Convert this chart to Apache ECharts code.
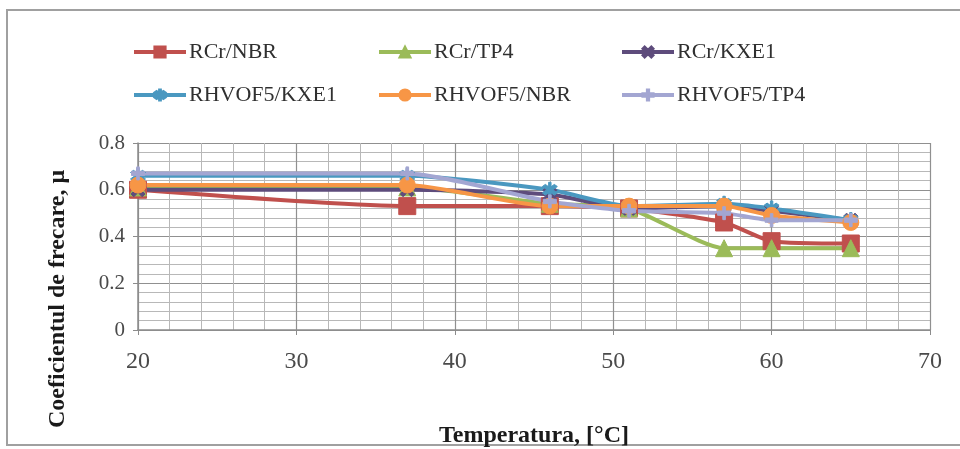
<!DOCTYPE html>
<html>
<head>
<meta charset="utf-8">
<script src="https://cdn.jsdelivr.net/npm/echarts@6/dist/echarts.min.js"></script>
<style>
html,body{margin:0;padding:0;background:#fff;}
#chart{width:960px;height:449px;}
</style>
</head>
<body>
<div id="chart"></div>
<script>
// ---- data ----
var temperatures = [20, 37, 46, 51, 57, 60, 65];
var seriesNames = ['RCr/NBR', 'RCr/TP4', 'RCr/KXE1', 'RHVOF5/KXE1', 'RHVOF5/NBR', 'RHVOF5/TP4'];
var rcrNBR     = [0.60, 0.53, 0.53, 0.52, 0.46, 0.38, 0.37];
var rcrTP4     = [0.61, 0.61, 0.54, 0.52, 0.35, 0.35, 0.35];
var rcrKXE1    = [0.60, 0.60, 0.58, 0.52, 0.53, 0.51, 0.47];
var rhvofKXE1  = [0.66, 0.66, 0.60, 0.53, 0.54, 0.52, 0.47];
var rhvofNBR   = [0.62, 0.62, 0.53, 0.53, 0.53, 0.49, 0.46];
var rhvofTP4   = [0.67, 0.67, 0.55, 0.51, 0.50, 0.47, 0.47];
var xTicks = [20, 30, 40, 50, 60, 70];
var yTicks = [0, 0.2, 0.4, 0.6, 0.8];
var xTitle = 'Temperatura, [°C]';
var yTitle = 'Coeficientul de frecare, μ';

var allValues = [rcrNBR, rcrTP4, rcrKXE1, rhvofKXE1, rhvofNBR, rhvofTP4];
var colors = ['#C0504D', '#9BBB59', '#5E4C7C', '#4A98C0', '#F79646', '#A3A6D2'];
var xPath = 'path://M2,0L5,3L8,0L10,2L7,5L10,8L8,10L5,7L2,10L0,8L3,5L0,2Z';
var starPath = 'path://M2,0L5,3L8,0L10,2L7,5L10,8L8,10L5,7L2,10L0,8L3,5L0,2Z M4.2,-2L5.8,-2L5.8,12L4.2,12Z';
var plusPath = 'path://M0,4L10,4L10,6L0,6Z M4,2L6,2L6,8L4,8Z';
var symbols = ['rect', 'triangle', xPath, starPath, 'circle', plusPath];
var symbolSizes = [17, 17, 14, 15, 16, 13];

function pairs(vals) {
  return temperatures.map(function (t, i) { return [t, vals[i]]; });
}

var series = seriesNames.map(function (name, k) {
  return {
    name: name,
    type: 'line',
    data: pairs(allValues[k]),
    smooth: 0.2,
    symbol: symbols[k],
    symbolSize: symbolSizes[k],
    showAllSymbol: true,
    lineStyle: { color: colors[k], width: 4 },
    itemStyle: { color: colors[k], borderColor: colors[k], borderWidth: 1 },
    emphasis: { disabled: true },
    animation: false
  };
});

var legendPos = [
  [132, 41], [377, 41], [620, 41],
  [132, 84], [377, 84], [620, 84]
];
var legends = seriesNames.map(function (name, k) {
  return {
    data: [name],
    left: legendPos[k][0],
    top: legendPos[k][1],
    padding: 0,
    itemWidth: 52,
    itemHeight: 14,
    itemGap: 0,
    lineStyle: { width: 4 },
    textStyle: { fontFamily: 'Liberation Serif', fontSize: 22, color: '#303030', padding: [0, 0, 0, -2] }
  };
});

var chart = echarts.init(document.getElementById('chart'), null, { renderer: 'canvas' });
chart.setOption({
  backgroundColor: '#ffffff',
  animation: false,
  color: colors,
  legend: legends,
  grid: { left: 138, right: 30, top: 143, bottom: 116, containLabel: false },
  xAxis: {
    type: 'value',
    min: xTicks[0],
    max: xTicks[xTicks.length - 1],
    interval: 10,
    name: xTitle,
    nameLocation: 'middle',
    nameGap: 94,
    nameTextStyle: { fontFamily: 'Liberation Serif', fontWeight: 'bold', fontSize: 24, color: '#1a1a1a' },
    axisLine: { show: true, lineStyle: { color: '#8c8c8c', width: 1.5 } },
    axisTick: { show: true, length: 5, lineStyle: { color: '#8c8c8c' } },
    axisLabel: { fontFamily: 'Liberation Serif', fontSize: 24, color: '#4a4a4a', margin: 20 },
    splitLine: { show: true, lineStyle: { color: '#909090', width: 1.2 } },
    minorTick: { show: false, splitNumber: 5 },
    minorSplitLine: { show: true, lineStyle: { color: '#b8b8b8', width: 1 } }
  },
  yAxis: {
    type: 'value',
    min: yTicks[0],
    max: yTicks[yTicks.length - 1],
    interval: 0.2,
    axisLine: { show: true, lineStyle: { color: '#8c8c8c', width: 1.5 } },
    axisTick: { show: true, length: 5, lineStyle: { color: '#8c8c8c' } },
    axisLabel: {
      fontFamily: 'Liberation Serif', fontSize: 21, color: '#4a4a4a', margin: 13,
      formatter: function (v) { return String(Math.round(v * 10) / 10); }
    },
    splitLine: { show: true, lineStyle: { color: '#909090', width: 1.2 } },
    minorTick: { show: false, splitNumber: 5 },
    minorSplitLine: { show: true, lineStyle: { color: '#b8b8b8', width: 1 } }
  },
  graphic: [
    {
      type: 'rect',
      shape: { x: 7, y: 10, width: 1000, height: 435 },
      style: { fill: 'none', stroke: '#a0a0a0', lineWidth: 2 },
      silent: true, z: -10
    },
    {
      type: 'text',
      x: 58, y: 299,
      rotation: Math.PI / 2,
      style: {
        text: yTitle,
        fontFamily: 'Liberation Serif', fontWeight: 'bold', fontSize: 24,
        fill: '#1a1a1a', align: 'center', verticalAlign: 'middle'
      },
      silent: true
    }
  ],
  series: series
});
</script>
</body>
</html>
